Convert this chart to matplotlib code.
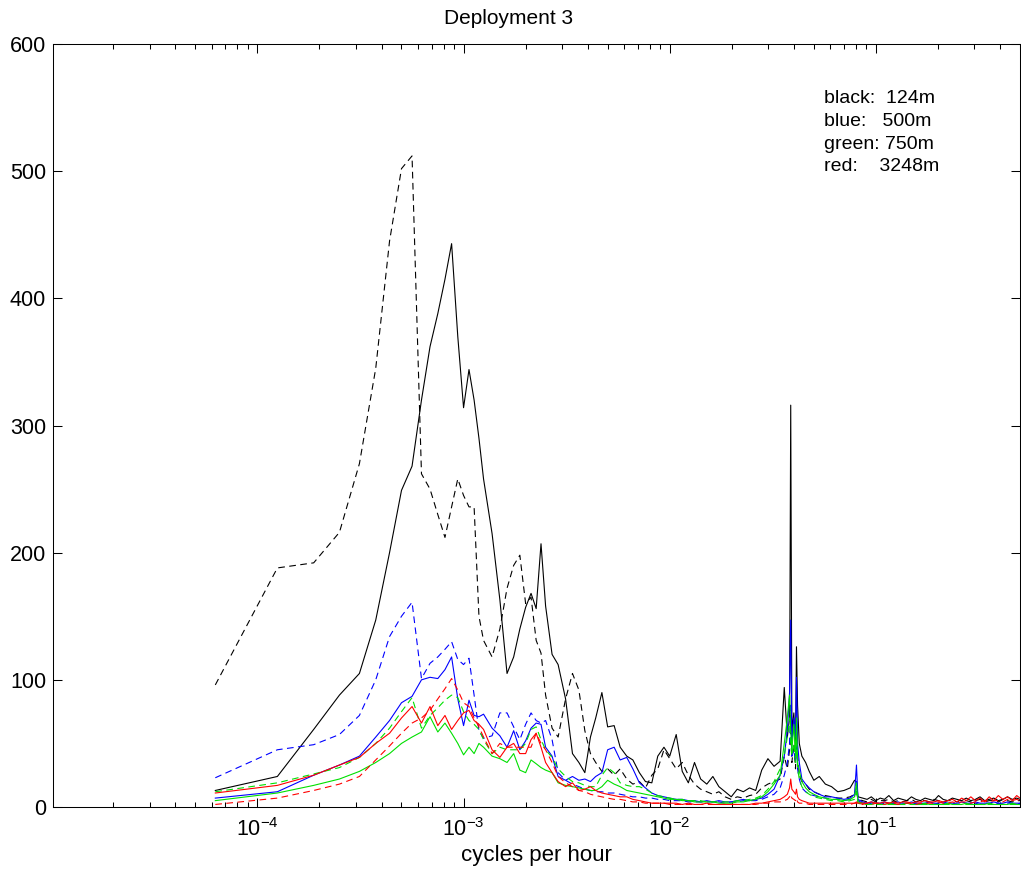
import numpy as np
import matplotlib.pyplot as plt
from matplotlib.ticker import LogLocator, NullFormatter

plt.rcParams['font.family'] = ['Liberation Sans', 'DejaVu Sans']
plt.rcParams['mathtext.fontset'] = 'custom'
plt.rcParams['mathtext.rm'] = 'Liberation Sans'
plt.rcParams['mathtext.it'] = 'Liberation Sans'
plt.rcParams['axes.unicode_minus'] = False

# frequency resolution of the spectra (cycles per hour) and the bins
df = 1.0 / 16000
bins = [1, 2, 3, 4, 5, 6, 7, 8, 9, 10,
        11, 12, 13, 14, 15, 16, 17, 18, 19, 20,
        22, 24, 26, 28, 30, 32, 34, 36, 38, 40,
        43, 46, 50, 54, 58, 62, 66, 70, 75, 80,
        86, 92, 99, 106, 114, 122, 131, 140, 150, 160,
        172, 184, 197, 211, 226, 242, 259, 277, 297, 318,
        340, 364, 390, 418, 447, 479, 513, 549, 575, 595,
        610, 618, 626, 640, 652, 659, 667, 680, 700, 730,
        760, 800, 850, 910, 975, 1045, 1120, 1200, 1260, 1288,
        1310, 1380, 1450, 1520, 1600, 1680, 1760, 1850, 1950, 2050,
        2150, 2260, 2380, 2500, 2630, 2770, 2910, 3060, 3220, 3390,
        3570, 3760, 3960, 4170, 4390, 4620, 4860, 5120, 5390, 5670,
        5970, 6280, 6610, 6960, 7330, 7710, 8000]

# 124 m (black)
black_solid = [13, 24, 61, 88, 105, 147, 200, 249, 268, 320,
               362, 388, 415, 443, 370, 314, 344, 320, 290, 258,
               215, 163, 105, 118, 140, 157, 168, 156, 207, 158,
               120, 112, 85, 42, 35, 27, 55, 70, 90, 63,
               64, 47, 40, 37, 27, 20, 19, 40, 47, 40,
               57, 28, 19, 35, 22, 18, 24, 16, 12, 8,
               14, 12, 15, 13, 29, 38, 32, 36, 94, 55,
               70, 316, 60, 74, 45, 126, 80, 50, 40, 35,
               28, 21, 24, 18, 16, 12, 13, 15, 21, 20,
               8, 7, 6, 8, 5, 7, 6, 9, 5, 7,
               6, 5, 8, 6, 5, 7, 6, 5, 9, 6,
               5, 7, 6, 5, 7, 5, 6, 8, 5, 6,
               7, 5, 6, 8, 6, 7, 6]
black_dash = [96, 188, 192, 216, 270, 345, 445, 502, 512, 262,
              250, 230, 212, 236, 258, 245, 236, 236, 150, 131,
              118, 140, 172, 190, 198, 160, 165, 131, 121, 88,
              62, 55, 85, 105, 92, 60, 42, 35, 28, 30,
              25, 30, 22, 18, 20, 15, 25, 30, 45, 38,
              30, 35, 25, 18, 14, 12, 10, 12, 8, 6,
              8, 7, 9, 10, 15, 18, 20, 22, 40, 30,
              45, 60, 35, 50, 30, 70, 40, 25, 20, 18,
              14, 12, 10, 9, 8, 7, 7, 8, 10, 12,
              6, 5, 4, 6, 4, 5, 5, 6, 4, 5,
              4, 5, 6, 4, 5, 5, 4, 6, 5, 4,
              5, 5, 4, 6, 5, 4, 5, 6, 4, 5,
              5, 4, 6, 5, 4, 5, 5]

# 500 m (blue)
blue_solid = [7, 12, 25, 33, 40, 55, 68, 82, 87, 100,
              102, 101, 108, 118, 85, 64, 84, 72, 71, 73,
              62, 56, 47, 60, 45, 52, 62, 66, 65, 47,
              40, 24, 21, 24, 21, 22, 20, 24, 27, 45,
              47, 37, 39, 30, 19, 15, 11, 9, 8, 7,
              6, 6, 5, 5, 4, 5, 4, 5, 4, 4,
              5, 6, 5, 6, 7, 10, 14, 25, 40, 60,
              90, 147, 50, 70, 55, 102, 50, 35, 22, 18,
              15, 12, 10, 8, 8, 7, 6, 7, 10, 33,
              6, 4, 3, 4, 3, 3, 4, 3, 3, 4,
              3, 3, 4, 3, 3, 3, 4, 3, 3, 4,
              3, 3, 3, 4, 3, 3, 4, 3, 3, 3,
              4, 3, 3, 4, 3, 3, 3]
blue_dash = [23, 45, 49, 57, 72, 100, 134, 150, 161, 101,
             113, 118, 124, 130, 116, 112, 117, 88, 60, 54,
             56, 74, 74, 63, 53, 65, 74, 68, 66, 68,
             53, 27, 21, 18, 16, 14, 13, 12, 12, 11,
             11, 10, 9, 8, 8, 7, 7, 6, 6, 5,
             5, 5, 4, 4, 4, 4, 4, 4, 3, 4,
             4, 5, 5, 5, 6, 8, 10, 15, 25, 35,
             50, 80, 40, 45, 35, 60, 30, 22, 15, 12,
             10, 9, 8, 7, 6, 6, 5, 6, 8, 20,
             5, 3, 2, 3, 3, 2, 3, 2, 3, 3,
             2, 3, 2, 3, 3, 2, 3, 2, 3, 3,
             2, 3, 2, 3, 3, 2, 3, 2, 3, 3,
             2, 3, 2, 3, 3, 2, 3]

# 750 m (green)
green_solid = [5, 11, 17, 22, 28, 35, 42, 50, 55, 59,
               71, 59, 66, 58, 50, 41, 47, 42, 50, 47,
               40, 38, 35, 42, 29, 27, 37, 34, 31, 29,
               27, 19, 17, 16, 15, 14, 13, 13, 16, 21,
               18, 16, 13, 12, 11, 10, 9, 8, 7, 6,
               6, 5, 5, 4, 4, 4, 4, 3, 3, 3,
               4, 4, 5, 6, 8, 12, 18, 25, 50, 70,
               88, 60, 45, 65, 40, 70, 35, 28, 20, 15,
               12, 10, 8, 7, 6, 6, 5, 6, 8, 19,
               4, 3, 2, 2, 3, 2, 2, 3, 2, 2,
               2, 3, 2, 2, 2, 3, 2, 2, 2, 2,
               3, 2, 2, 2, 3, 2, 2, 2, 2, 3,
               2, 2, 2, 2, 3, 2, 2]
green_dash = [12, 19, 26, 31, 39, 50, 62, 75, 86, 62,
              72, 78, 84, 88, 86, 75, 68, 65, 61, 53,
              42, 47, 45, 45, 45, 50, 61, 63, 53, 45,
              39, 30, 24, 20, 19, 17, 16, 16, 25, 31,
              27, 19, 17, 16, 16, 14, 11, 9, 8, 7,
              6, 6, 5, 5, 5, 4, 4, 4, 4, 4,
              5, 5, 6, 7, 9, 14, 20, 30, 40, 55,
              70, 50, 40, 50, 35, 55, 30, 22, 16, 12,
              10, 8, 7, 6, 5, 5, 4, 5, 6, 12,
              3, 2, 2, 2, 2, 2, 2, 2, 2, 2,
              2, 2, 2, 2, 2, 2, 2, 2, 2, 2,
              2, 2, 2, 2, 2, 2, 2, 2, 2, 2,
              2, 2, 2, 2, 2, 2, 2]

# 3248 m (red)
red_solid = [11, 17, 25, 33, 39, 50, 58, 70, 79, 66,
             79, 64, 72, 61, 68, 74, 76, 68, 65, 61,
             45, 39, 47, 50, 42, 42, 53, 58, 47, 35,
             27, 20, 16, 19, 13, 14, 16, 13, 11, 10,
             9, 8, 8, 6, 5, 4, 3, 3, 3, 3,
             3, 2, 3, 2, 2, 3, 2, 2, 2, 2,
             2, 2, 2, 3, 3, 4, 5, 6, 8, 10,
             15, 22, 14, 12, 10, 14, 8, 6, 5, 4,
             3, 3, 3, 3, 3, 3, 3, 3, 3, 4,
             3, 3, 3, 4, 3, 3, 4, 3, 4, 3,
             4, 4, 3, 4, 4, 5, 4, 4, 5, 4,
             5, 6, 4, 7, 5, 8, 5, 7, 4, 8,
             5, 9, 6, 8, 5, 9, 7]
red_dash = [2, 7, 13, 18, 24, 37, 48, 58, 66, 70,
            76, 85, 93, 101, 92, 82, 79, 70, 63, 55,
            42, 50, 47, 47, 47, 47, 47, 58, 50, 45,
            35, 24, 19, 16, 13, 12, 10, 9, 8, 7,
            6, 6, 5, 4, 4, 3, 3, 3, 3, 2,
            2, 2, 2, 2, 2, 2, 2, 2, 2, 2,
            2, 2, 2, 2, 3, 3, 4, 4, 5, 6,
            8, 10, 7, 6, 5, 7, 4, 3, 3, 3,
            2, 2, 2, 2, 2, 2, 2, 2, 3, 3,
            2, 2, 3, 2, 3, 3, 2, 3, 3, 2,
            3, 3, 3, 2, 3, 3, 3, 3, 4, 3,
            3, 4, 3, 4, 4, 3, 4, 4, 5, 4,
            5, 5, 4, 6, 5, 6, 5]

legend_lines = ['black:  124m', 'blue:   500m', 'green: 750m', 'red:    3248m']

freq = np.array(bins) * df

fig = plt.figure(figsize=(10.21, 8.77), dpi=100)
ax = fig.add_axes([53 / 1021, 70 / 877, 967 / 1021, 763 / 877])

dash = (0, (6, 4))
series = [
    (black_solid, 'k', '-'), (black_dash, 'k', dash),
    (blue_solid, '#0000ff', '-'), (blue_dash, '#0000ff', dash),
    (green_solid, '#00e000', '-'), (green_dash, '#00e000', dash),
    (red_solid, '#ff0000', '-'), (red_dash, '#ff0000', dash),
]
for vals, col, ls in series:
    ax.plot(freq, vals, color=col, linestyle=ls, lw=0.8)

ax.set_xscale('log')
ax.set_xlim(1.02e-5, 0.5)
ax.set_ylim(0, 600)
ax.set_xticks([1e-4, 1e-3, 1e-2, 1e-1])
ax.set_xticklabels([r'$\mathregular{10^{-4}}$', r'$\mathregular{10^{-3}}$',
                    r'$\mathregular{10^{-2}}$', r'$\mathregular{10^{-1}}$'])
ax.xaxis.set_minor_locator(LogLocator(base=10, subs=np.arange(2, 10), numticks=20))
ax.xaxis.set_minor_formatter(NullFormatter())
ax.set_yticks(range(0, 601, 100))

ax.tick_params(which='both', direction='in', top=True, right=True, width=0.75)
ax.tick_params(which='major', length=6.5, labelsize=15.5)
ax.tick_params(axis='x', which='major', pad=8)
ax.tick_params(axis='y', which='major', pad=5)
ax.tick_params(which='minor', length=3.5)
for sp in ax.spines.values():
    sp.set_linewidth(0.75)

ax.set_xlabel('cycles per hour', fontsize=16, labelpad=3)
fig.text(509 / 1021, 1 - 19 / 877, 'Deployment 3', ha='center', va='center', fontsize=15)

for txt, yb in zip(legend_lines, [103, 126, 149, 171]):
    fig.text(824 / 1021, 1 - yb / 877, txt, ha='left', va='baseline', fontsize=14)

fig.savefig('out.png', dpi=100)
